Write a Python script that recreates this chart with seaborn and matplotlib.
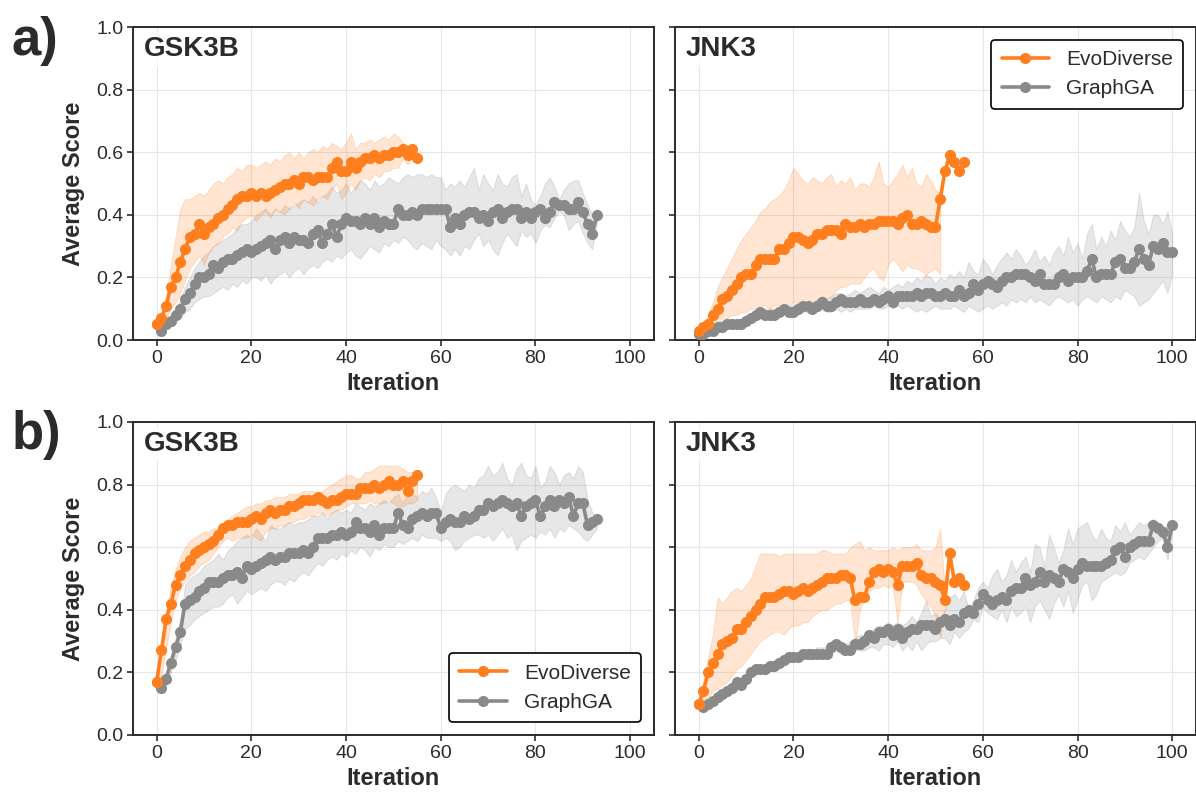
import numpy as np
import matplotlib
matplotlib.use("Agg")
import matplotlib.pyplot as plt
import seaborn as sns

# ---------------- data ----------------
methods = ["EvoDiverse", "GraphGA"]
targets = ["GSK3B", "JNK3"]
row_labels = ["a)", "b)"]
x_ticks = [0, 20, 40, 60, 80, 100]
y_ticks = [0.0, 0.2, 0.4, 0.6, 0.8, 1.0]

# Row a) GSK3B
evo_a_gsk = [0.05, 0.07, 0.11, 0.17, 0.20, 0.25, 0.29, 0.33, 0.34, 0.37, 0.34, 0.36, 0.37, 0.39, 0.40, 0.42, 0.43, 0.45, 0.46, 0.46,
             0.47, 0.46, 0.47, 0.46, 0.47, 0.48, 0.49, 0.50, 0.50, 0.51, 0.50, 0.52, 0.52, 0.51, 0.52, 0.52, 0.52, 0.55, 0.57, 0.54,
             0.54, 0.57, 0.55, 0.57, 0.58, 0.58, 0.59, 0.58, 0.59, 0.59, 0.60, 0.60, 0.61, 0.59, 0.61, 0.58]
evo_a_gsk_hi = [0.05, 0.08, 0.14, 0.24, 0.33, 0.42, 0.45, 0.45, 0.46, 0.47, 0.46, 0.48, 0.50, 0.51, 0.50, 0.52, 0.53, 0.55, 0.54, 0.56,
                0.56, 0.55, 0.56, 0.57, 0.56, 0.58, 0.57, 0.59, 0.60, 0.58, 0.60, 0.58, 0.60, 0.61, 0.60, 0.62, 0.61, 0.63, 0.62, 0.61,
                0.63, 0.66, 0.61, 0.63, 0.63, 0.64, 0.63, 0.64, 0.65, 0.64, 0.66, 0.65, 0.63, 0.62, 0.61, 0.59]
evo_a_gsk_lo = [0.04, 0.05, 0.07, 0.10, 0.12, 0.15, 0.19, 0.23, 0.25, 0.27, 0.24, 0.28, 0.30, 0.31, 0.33, 0.34, 0.36, 0.35, 0.38, 0.39,
                0.40, 0.38, 0.40, 0.41, 0.39, 0.42, 0.41, 0.40, 0.42, 0.44, 0.42, 0.45, 0.44, 0.43, 0.45, 0.46, 0.45, 0.48, 0.50, 0.45,
                0.47, 0.50, 0.48, 0.51, 0.52, 0.51, 0.53, 0.52, 0.54, 0.54, 0.55, 0.55, 0.58, 0.56, 0.59, 0.57]
gga_a_gsk = [0.05, 0.03, 0.05, 0.06, 0.08, 0.10, 0.13, 0.15, 0.18, 0.20, 0.20, 0.21, 0.24, 0.23, 0.25, 0.26, 0.26, 0.27, 0.28, 0.29,
             0.28, 0.29, 0.30, 0.31, 0.32, 0.29, 0.32, 0.33, 0.31, 0.33, 0.32, 0.32, 0.31, 0.34, 0.35, 0.31, 0.34, 0.37, 0.33, 0.37,
             0.39, 0.38, 0.38, 0.37, 0.39, 0.37, 0.39, 0.36, 0.38, 0.37, 0.37, 0.42, 0.40, 0.40, 0.41, 0.40, 0.42, 0.42, 0.42, 0.42,
             0.42, 0.42, 0.36, 0.39, 0.37, 0.40, 0.41, 0.41, 0.39, 0.40, 0.38, 0.41, 0.42, 0.39, 0.41, 0.42, 0.42, 0.39, 0.41, 0.39,
             0.41, 0.42, 0.39, 0.41, 0.44, 0.43, 0.43, 0.42, 0.42, 0.44, 0.41, 0.37, 0.34, 0.40]
gga_a_gsk_hi = [0.05, 0.04, 0.06, 0.08, 0.10, 0.13, 0.17, 0.20, 0.23, 0.25, 0.27, 0.28, 0.30, 0.31, 0.32, 0.33, 0.34, 0.36, 0.37, 0.37,
                0.38, 0.40, 0.41, 0.42, 0.40, 0.42, 0.41, 0.43, 0.42, 0.43, 0.44, 0.45, 0.44, 0.46, 0.44, 0.46, 0.47, 0.49, 0.47, 0.48,
                0.50, 0.47, 0.49, 0.51, 0.50, 0.48, 0.51, 0.49, 0.50, 0.52, 0.51, 0.50, 0.52, 0.53, 0.52, 0.53, 0.53, 0.52, 0.53, 0.52,
                0.52, 0.48, 0.50, 0.49, 0.51, 0.49, 0.52, 0.55, 0.48, 0.53, 0.50, 0.48, 0.53, 0.50, 0.49, 0.52, 0.53, 0.46, 0.50, 0.45,
                0.43, 0.46, 0.50, 0.52, 0.49, 0.45, 0.48, 0.50, 0.51, 0.51, 0.47, 0.43, 0.40, 0.42]
gga_a_gsk_lo = [0.04, 0.03, 0.04, 0.05, 0.06, 0.07, 0.09, 0.10, 0.12, 0.13, 0.14, 0.14, 0.15, 0.16, 0.17, 0.16, 0.18, 0.17, 0.19, 0.18,
                0.20, 0.20, 0.19, 0.21, 0.18, 0.20, 0.21, 0.22, 0.20, 0.22, 0.23, 0.21, 0.23, 0.24, 0.23, 0.25, 0.26, 0.25, 0.27, 0.26,
                0.28, 0.29, 0.27, 0.26, 0.28, 0.30, 0.29, 0.28, 0.31, 0.30, 0.32, 0.31, 0.33, 0.32, 0.30, 0.29, 0.31, 0.30, 0.29, 0.32,
                0.30, 0.29, 0.27, 0.29, 0.27, 0.30, 0.29, 0.32, 0.34, 0.30, 0.32, 0.29, 0.27, 0.31, 0.34, 0.32, 0.30, 0.35, 0.33, 0.34,
                0.31, 0.35, 0.37, 0.36, 0.39, 0.41, 0.40, 0.35, 0.37, 0.38, 0.34, 0.31, 0.29, 0.38]

# Row a) JNK3
evo_a_jnk = [0.03, 0.04, 0.05, 0.08, 0.10, 0.13, 0.14, 0.16, 0.18, 0.20, 0.21, 0.21, 0.24, 0.26, 0.26, 0.26, 0.26, 0.29, 0.29, 0.31,
             0.33, 0.33, 0.32, 0.31, 0.32, 0.34, 0.34, 0.35, 0.35, 0.35, 0.34, 0.37, 0.36, 0.36, 0.37, 0.36, 0.37, 0.37, 0.38, 0.38,
             0.38, 0.38, 0.37, 0.39, 0.40, 0.37, 0.37, 0.38, 0.37, 0.36, 0.36, 0.45, 0.54, 0.59, 0.57, 0.54, 0.57]
evo_a_jnk_hi = [0.03, 0.05, 0.08, 0.12, 0.17, 0.20, 0.23, 0.26, 0.29, 0.32, 0.34, 0.36, 0.38, 0.41, 0.42, 0.44, 0.45, 0.46, 0.48, 0.51,
                0.55, 0.53, 0.51, 0.50, 0.52, 0.51, 0.50, 0.52, 0.53, 0.49, 0.51, 0.50, 0.52, 0.48, 0.50, 0.50, 0.49, 0.52, 0.57, 0.50,
                0.49, 0.51, 0.53, 0.56, 0.52, 0.55, 0.50, 0.49, 0.53, 0.51, 0.48, 0.47]
evo_a_jnk_lo = [0.02, 0.03, 0.04, 0.05, 0.06, 0.06, 0.07, 0.08, 0.08, 0.09, 0.09, 0.10, 0.10, 0.11, 0.11, 0.10, 0.11, 0.11, 0.10, 0.11,
                0.12, 0.12, 0.13, 0.13, 0.12, 0.13, 0.14, 0.13, 0.14, 0.16, 0.17, 0.17, 0.18, 0.18, 0.18, 0.20, 0.22, 0.23, 0.20, 0.19,
                0.24, 0.26, 0.24, 0.22, 0.24, 0.23, 0.23, 0.22, 0.21, 0.22, 0.23, 0.21]
gga_a_jnk = [0.02, 0.02, 0.03, 0.03, 0.04, 0.04, 0.05, 0.05, 0.05, 0.05, 0.06, 0.07, 0.08, 0.09, 0.08, 0.08, 0.08, 0.09, 0.10, 0.09,
             0.09, 0.10, 0.11, 0.11, 0.10, 0.11, 0.12, 0.11, 0.11, 0.12, 0.13, 0.12, 0.12, 0.12, 0.13, 0.12, 0.12, 0.13, 0.12, 0.13,
             0.14, 0.12, 0.14, 0.14, 0.14, 0.14, 0.15, 0.14, 0.15, 0.15, 0.14, 0.14, 0.15, 0.14, 0.14, 0.16, 0.14, 0.15, 0.18, 0.16,
             0.18, 0.19, 0.18, 0.17, 0.19, 0.20, 0.20, 0.21, 0.21, 0.21, 0.20, 0.19, 0.21, 0.18, 0.18, 0.18, 0.20, 0.21, 0.19, 0.20,
             0.20, 0.20, 0.22, 0.26, 0.20, 0.21, 0.21, 0.21, 0.25, 0.26, 0.23, 0.23, 0.25, 0.29, 0.26, 0.24, 0.30, 0.29, 0.31, 0.28,
             0.28]
gga_a_jnk_hi = [0.03, 0.03, 0.04, 0.04, 0.05, 0.05, 0.06, 0.06, 0.06, 0.07, 0.08, 0.08, 0.09, 0.10, 0.10, 0.10, 0.10, 0.10, 0.11, 0.11,
                0.11, 0.12, 0.12, 0.12, 0.12, 0.13, 0.14, 0.13, 0.14, 0.15, 0.15, 0.14, 0.15, 0.16, 0.15, 0.16, 0.17, 0.16, 0.15, 0.17,
                0.16, 0.17, 0.18, 0.17, 0.19, 0.18, 0.20, 0.19, 0.21, 0.20, 0.18, 0.20, 0.19, 0.21, 0.20, 0.22, 0.20, 0.25, 0.22, 0.21,
                0.26, 0.24, 0.21, 0.24, 0.26, 0.28, 0.26, 0.29, 0.27, 0.24, 0.26, 0.29, 0.25, 0.27, 0.24, 0.28, 0.30, 0.27, 0.33, 0.28,
                0.31, 0.26, 0.34, 0.37, 0.29, 0.33, 0.30, 0.35, 0.32, 0.38, 0.35, 0.33, 0.36, 0.47, 0.38, 0.34, 0.40, 0.40, 0.37, 0.41,
                0.34]
gga_a_jnk_lo = [0.01, 0.01, 0.02, 0.02, 0.03, 0.03, 0.04, 0.04, 0.04, 0.04, 0.05, 0.06, 0.07, 0.07, 0.07, 0.07, 0.07, 0.08, 0.08, 0.08,
                0.08, 0.09, 0.09, 0.09, 0.09, 0.09, 0.10, 0.09, 0.09, 0.10, 0.09, 0.10, 0.09, 0.10, 0.10, 0.10, 0.10, 0.11, 0.10, 0.10,
                0.11, 0.10, 0.11, 0.10, 0.11, 0.10, 0.09, 0.10, 0.09, 0.10, 0.11, 0.10, 0.10, 0.10, 0.11, 0.10, 0.09, 0.11, 0.10, 0.09,
                0.10, 0.11, 0.10, 0.11, 0.12, 0.11, 0.13, 0.12, 0.13, 0.12, 0.14, 0.12, 0.13, 0.12, 0.11, 0.13, 0.14, 0.13, 0.12, 0.13,
                0.11, 0.13, 0.14, 0.13, 0.12, 0.14, 0.13, 0.12, 0.14, 0.13, 0.16, 0.15, 0.14, 0.11, 0.12, 0.13, 0.15, 0.17, 0.19, 0.15,
                0.21]

# Row b) GSK3B
evo_b_gsk = [0.17, 0.27, 0.37, 0.42, 0.48, 0.51, 0.54, 0.56, 0.58, 0.59, 0.60, 0.61, 0.62, 0.64, 0.66, 0.67, 0.67, 0.68, 0.68, 0.68,
             0.69, 0.70, 0.69, 0.71, 0.72, 0.71, 0.72, 0.72, 0.73, 0.73, 0.74, 0.75, 0.75, 0.75, 0.76, 0.75, 0.74, 0.75, 0.75, 0.76,
             0.77, 0.77, 0.77, 0.79, 0.79, 0.79, 0.80, 0.79, 0.80, 0.81, 0.80, 0.80, 0.81, 0.78, 0.81, 0.83]
evo_b_gsk_hi = [0.17, 0.29, 0.40, 0.47, 0.53, 0.57, 0.60, 0.62, 0.63, 0.64, 0.65, 0.65, 0.66, 0.66, 0.67, 0.69, 0.70, 0.71, 0.72, 0.73,
                0.73, 0.74, 0.74, 0.75, 0.75, 0.76, 0.76, 0.76, 0.77, 0.77, 0.77, 0.78, 0.78, 0.78, 0.77, 0.78, 0.79, 0.80, 0.81, 0.82,
                0.83, 0.83, 0.82, 0.82, 0.84, 0.84, 0.85, 0.86, 0.86, 0.86, 0.86, 0.86, 0.85, 0.84, 0.84, 0.84]
evo_b_gsk_lo = [0.16, 0.19, 0.28, 0.36, 0.43, 0.47, 0.49, 0.51, 0.52, 0.54, 0.55, 0.56, 0.58, 0.60, 0.62, 0.63, 0.62, 0.63, 0.63, 0.63,
                0.64, 0.63, 0.62, 0.65, 0.66, 0.66, 0.67, 0.67, 0.68, 0.68, 0.69, 0.69, 0.70, 0.70, 0.71, 0.71, 0.70, 0.71, 0.72, 0.72,
                0.73, 0.74, 0.74, 0.74, 0.74, 0.75, 0.74, 0.74, 0.74, 0.75, 0.74, 0.73, 0.73, 0.74, 0.74, 0.75]
gga_b_gsk = [0.17, 0.15, 0.18, 0.23, 0.28, 0.33, 0.42, 0.43, 0.44, 0.46, 0.47, 0.49, 0.49, 0.49, 0.50, 0.51, 0.51, 0.52, 0.50, 0.54,
             0.53, 0.54, 0.55, 0.56, 0.57, 0.56, 0.57, 0.57, 0.58, 0.58, 0.58, 0.59, 0.58, 0.60, 0.63, 0.63, 0.63, 0.64, 0.64, 0.65,
             0.64, 0.65, 0.68, 0.66, 0.66, 0.65, 0.67, 0.64, 0.66, 0.66, 0.66, 0.71, 0.67, 0.66, 0.69, 0.70, 0.71, 0.70, 0.71, 0.71,
             0.66, 0.68, 0.69, 0.68, 0.68, 0.70, 0.69, 0.70, 0.72, 0.72, 0.74, 0.73, 0.74, 0.75, 0.74, 0.73, 0.74, 0.70, 0.73, 0.74,
             0.75, 0.70, 0.73, 0.75, 0.73, 0.75, 0.74, 0.76, 0.70, 0.74, 0.74, 0.67, 0.68, 0.69]
gga_b_gsk_hi = [0.17, 0.16, 0.20, 0.26, 0.31, 0.37, 0.48, 0.50, 0.51, 0.52, 0.54, 0.55, 0.56, 0.58, 0.56, 0.59, 0.60, 0.62, 0.63, 0.64,
                0.63, 0.66, 0.64, 0.62, 0.67, 0.66, 0.66, 0.67, 0.68, 0.67, 0.68, 0.68, 0.69, 0.70, 0.70, 0.71, 0.69, 0.71, 0.72, 0.71,
                0.72, 0.71, 0.74, 0.73, 0.72, 0.74, 0.73, 0.74, 0.75, 0.74, 0.76, 0.77, 0.74, 0.78, 0.77, 0.76, 0.78, 0.77, 0.79, 0.76,
                0.71, 0.77, 0.79, 0.80, 0.79, 0.78, 0.80, 0.79, 0.82, 0.83, 0.86, 0.83, 0.84, 0.87, 0.82, 0.80, 0.85, 0.87, 0.83, 0.82,
                0.86, 0.79, 0.81, 0.86, 0.84, 0.80, 0.83, 0.84, 0.82, 0.86, 0.84, 0.75, 0.71, 0.70]
gga_b_gsk_lo = [0.16, 0.14, 0.16, 0.20, 0.24, 0.29, 0.34, 0.35, 0.37, 0.38, 0.39, 0.40, 0.41, 0.41, 0.42, 0.44, 0.45, 0.42, 0.44, 0.46,
                0.45, 0.46, 0.47, 0.46, 0.48, 0.49, 0.49, 0.48, 0.50, 0.49, 0.51, 0.52, 0.51, 0.53, 0.55, 0.54, 0.56, 0.57, 0.56, 0.58,
                0.57, 0.59, 0.58, 0.60, 0.59, 0.57, 0.60, 0.59, 0.61, 0.60, 0.60, 0.62, 0.61, 0.62, 0.63, 0.62, 0.64, 0.63, 0.63, 0.63,
                0.62, 0.63, 0.62, 0.59, 0.60, 0.62, 0.63, 0.64, 0.64, 0.63, 0.64, 0.62, 0.64, 0.66, 0.63, 0.64, 0.59, 0.62, 0.63, 0.64,
                0.63, 0.65, 0.64, 0.66, 0.63, 0.66, 0.65, 0.67, 0.66, 0.65, 0.63, 0.62, 0.64, 0.66]

# Row b) JNK3
evo_b_jnk = [0.10, 0.14, 0.20, 0.23, 0.26, 0.29, 0.30, 0.31, 0.34, 0.34, 0.36, 0.38, 0.40, 0.42, 0.44, 0.44, 0.44, 0.45, 0.46, 0.46,
             0.45, 0.46, 0.47, 0.46, 0.47, 0.48, 0.49, 0.50, 0.50, 0.50, 0.51, 0.51, 0.50, 0.43, 0.44, 0.44, 0.49, 0.52, 0.53, 0.52,
             0.53, 0.52, 0.48, 0.54, 0.54, 0.54, 0.55, 0.51, 0.50, 0.50, 0.49, 0.48, 0.43, 0.58, 0.49, 0.50, 0.48]
evo_b_jnk_hi = [0.10, 0.18, 0.25, 0.32, 0.44, 0.42, 0.44, 0.46, 0.47, 0.46, 0.48, 0.50, 0.54, 0.58, 0.58, 0.58, 0.58, 0.57, 0.58, 0.58,
                0.58, 0.58, 0.58, 0.58, 0.58, 0.58, 0.59, 0.59, 0.58, 0.58, 0.58, 0.58, 0.60, 0.61, 0.62, 0.59, 0.60, 0.59, 0.59, 0.59,
                0.59, 0.60, 0.59, 0.60, 0.60, 0.60, 0.61, 0.59, 0.59, 0.59, 0.60, 0.66, 0.46]
evo_b_jnk_lo = [0.09, 0.10, 0.12, 0.14, 0.15, 0.16, 0.17, 0.19, 0.21, 0.22, 0.24, 0.26, 0.28, 0.30, 0.31, 0.32, 0.33, 0.33, 0.32, 0.34,
                0.35, 0.35, 0.36, 0.36, 0.38, 0.39, 0.40, 0.40, 0.41, 0.42, 0.42, 0.43, 0.43, 0.29, 0.40, 0.44, 0.46, 0.47, 0.47, 0.48,
                0.47, 0.48, 0.36, 0.49, 0.49, 0.49, 0.48, 0.45, 0.43, 0.41, 0.38, 0.31, 0.40]
gga_b_jnk = [0.10, 0.09, 0.10, 0.11, 0.12, 0.13, 0.14, 0.15, 0.17, 0.16, 0.18, 0.20, 0.21, 0.21, 0.21, 0.22, 0.22, 0.23, 0.24, 0.25,
             0.25, 0.25, 0.26, 0.26, 0.26, 0.26, 0.26, 0.26, 0.28, 0.29, 0.28, 0.27, 0.27, 0.29, 0.29, 0.30, 0.32, 0.31, 0.33, 0.33,
             0.34, 0.32, 0.34, 0.31, 0.33, 0.34, 0.34, 0.35, 0.35, 0.35, 0.34, 0.36, 0.37, 0.35, 0.37, 0.36, 0.39, 0.40, 0.39, 0.42,
             0.45, 0.43, 0.42, 0.43, 0.44, 0.43, 0.46, 0.47, 0.47, 0.50, 0.48, 0.49, 0.52, 0.49, 0.51, 0.50, 0.49, 0.53, 0.52, 0.50,
             0.53, 0.55, 0.54, 0.54, 0.54, 0.54, 0.55, 0.56, 0.59, 0.60, 0.57, 0.60, 0.61, 0.62, 0.62, 0.62, 0.67, 0.66, 0.65, 0.60,
             0.67]
gga_b_jnk_hi = [0.10, 0.10, 0.11, 0.12, 0.13, 0.14, 0.15, 0.16, 0.18, 0.17, 0.19, 0.21, 0.22, 0.22, 0.22, 0.23, 0.23, 0.24, 0.25, 0.26,
                0.26, 0.26, 0.27, 0.27, 0.27, 0.28, 0.28, 0.28, 0.30, 0.30, 0.30, 0.29, 0.30, 0.31, 0.32, 0.32, 0.33, 0.34, 0.35, 0.35,
                0.36, 0.35, 0.36, 0.35, 0.36, 0.38, 0.36, 0.39, 0.43, 0.38, 0.39, 0.37, 0.40, 0.44, 0.45, 0.43, 0.46, 0.40, 0.43, 0.47,
                0.49, 0.47, 0.51, 0.53, 0.49, 0.51, 0.56, 0.52, 0.55, 0.57, 0.52, 0.61, 0.60, 0.54, 0.64, 0.60, 0.55, 0.59, 0.66, 0.61,
                0.66, 0.67, 0.68, 0.64, 0.62, 0.66, 0.63, 0.62, 0.67, 0.65, 0.68, 0.64, 0.66, 0.68, 0.67, 0.68, 0.69, 0.64, 0.66, 0.67,
                0.67]
gga_b_jnk_lo = [0.09, 0.09, 0.10, 0.10, 0.11, 0.12, 0.13, 0.14, 0.16, 0.15, 0.17, 0.19, 0.20, 0.20, 0.20, 0.21, 0.21, 0.22, 0.23, 0.24,
                0.24, 0.24, 0.25, 0.25, 0.25, 0.25, 0.25, 0.25, 0.26, 0.27, 0.26, 0.26, 0.26, 0.27, 0.27, 0.27, 0.28, 0.28, 0.27, 0.29,
                0.29, 0.28, 0.30, 0.27, 0.29, 0.27, 0.30, 0.27, 0.29, 0.30, 0.30, 0.31, 0.31, 0.29, 0.33, 0.31, 0.33, 0.34, 0.37, 0.36,
                0.41, 0.39, 0.38, 0.37, 0.40, 0.36, 0.41, 0.38, 0.39, 0.41, 0.36, 0.41, 0.43, 0.40, 0.37, 0.42, 0.45, 0.41, 0.46, 0.39,
                0.43, 0.48, 0.49, 0.43, 0.45, 0.49, 0.50, 0.51, 0.52, 0.51, 0.52, 0.55, 0.56, 0.57, 0.56, 0.58, 0.60, 0.62, 0.63, 0.56,
                0.65]

panels = [
    [(evo_a_gsk, evo_a_gsk_lo, evo_a_gsk_hi, gga_a_gsk, gga_a_gsk_lo, gga_a_gsk_hi),
     (evo_a_jnk, evo_a_jnk_lo, evo_a_jnk_hi, gga_a_jnk, gga_a_jnk_lo, gga_a_jnk_hi)],
    [(evo_b_gsk, evo_b_gsk_lo, evo_b_gsk_hi, gga_b_gsk, gga_b_gsk_lo, gga_b_gsk_hi),
     (evo_b_jnk, evo_b_jnk_lo, evo_b_jnk_hi, gga_b_jnk, gga_b_jnk_lo, gga_b_jnk_hi)],
]

# ---------------- style ----------------
sns.set_style("whitegrid", {"grid.color": "#e6e6e6", "axes.edgecolor": "#2b2b2b"})
plt.rcParams["font.family"] = ["Liberation Sans", "DejaVu Sans"]
plt.rcParams["axes.linewidth"] = 1.4

ORANGE = "#ff7f1e"
GRAY = "#898989"
TEXT = "#2b2b2b"

fig = plt.figure(figsize=(11.96, 7.92), dpi=100)
lefts = [0.1112, 0.5644]
bottoms = [0.5707, 0.0720]
W, H = 0.4355, 0.3952

for r in range(2):
    for c in range(2):
        ax = fig.add_axes([lefts[c], bottoms[r], W, H])
        evo, evo_lo, evo_hi, gga, gga_lo, gga_hi = panels[r][c]
        xe = np.arange(len(evo))
        xg = np.arange(len(gga))
        ax.fill_between(np.arange(len(gga_lo)), gga_lo, gga_hi, color=GRAY, alpha=0.2, linewidth=0.8, zorder=1)
        ax.fill_between(np.arange(len(evo_lo)), evo_lo, evo_hi, color=ORANGE, alpha=0.2, linewidth=0.8, zorder=2)
        sns.lineplot(x=xe, y=evo, ax=ax, color=ORANGE, marker="o", markersize=8, markeredgewidth=0,
                     linewidth=2.6, label=methods[0], zorder=4)
        sns.lineplot(x=xg, y=gga, ax=ax, color=GRAY, marker="o", markersize=8, markeredgewidth=0,
                     linewidth=2.6, label=methods[1], zorder=3)
        ax.set_xlim(-5, 105)
        ax.set_ylim(0, 1.0)
        ax.set_xticks(x_ticks)
        ax.set_yticks(y_ticks)
        if c == 0:
            ax.set_yticklabels([f"{v:.1f}" for v in y_ticks])
        else:
            ax.set_yticklabels([])
        ax.tick_params(axis="both", labelsize=14, colors=TEXT, length=4, width=1.2, pad=3,
                       bottom=True, left=True)
        ax.set_xlabel("Iteration", fontsize=17, fontweight="bold", color=TEXT, labelpad=4)
        if c == 0:
            ax.set_ylabel("Average Score", fontsize=17, fontweight="bold", color=TEXT, labelpad=8)
        else:
            ax.set_ylabel("")
        ax.text(0.02, 0.972, targets[c], transform=ax.transAxes, ha="left", va="top",
                fontsize=20, fontweight="bold", color=TEXT, zorder=6,
                bbox=dict(facecolor="white", edgecolor="none", alpha=0.8, pad=3))
        show_legend = (r == 0 and c == 1) or (r == 1 and c == 0)
        if show_legend:
            loc = "upper right" if r == 0 else "lower right"
            leg = ax.legend(loc=loc, fontsize=15, frameon=True, fancybox=True,
                            borderpad=0.5, handlelength=2.3, borderaxespad=0.6)
            leg.get_frame().set_edgecolor("black")
            leg.get_frame().set_linewidth(1.2)
            leg.get_frame().set_alpha(1)
            for t in leg.get_texts():
                t.set_color(TEXT)
        else:
            if ax.get_legend() is not None:
                ax.get_legend().remove()

fig.text(0.010, 0.9306, row_labels[0], fontsize=38, fontweight="bold", color=TEXT, va="baseline")
fig.text(0.010, 0.4330, row_labels[1], fontsize=38, fontweight="bold", color=TEXT, va="baseline")

fig.savefig("out.png", dpi=100)
